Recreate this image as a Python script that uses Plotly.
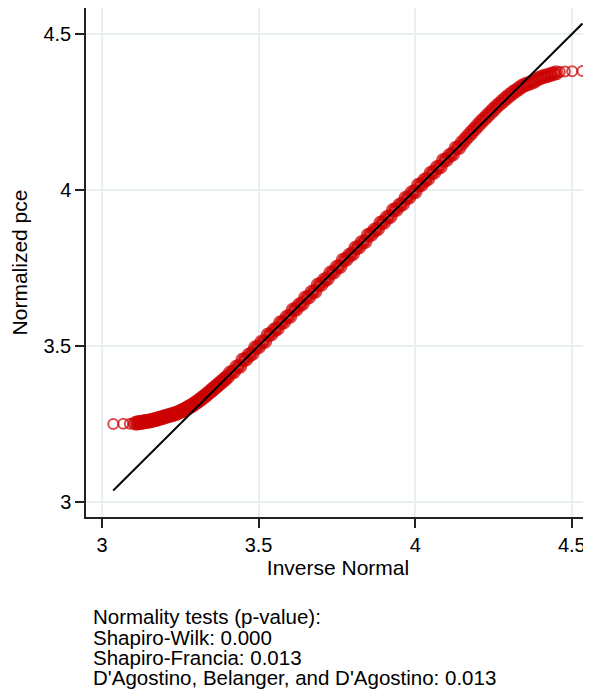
import plotly.graph_objects as go

inv_normal = [
    3.036, 3.068, 3.089, 3.100, 3.108, 3.115, 3.121, 3.127, 3.133, 3.139,
    3.145, 3.151, 3.157, 3.163, 3.169, 3.175, 3.181, 3.187, 3.193, 3.199,
    3.205, 3.212, 3.219, 3.226, 3.233, 3.240, 3.247, 3.254, 3.261, 3.268,
    3.275, 3.282, 3.289, 3.296, 3.303, 3.310, 3.317, 3.324, 3.331, 3.338,
    3.345, 3.352, 3.359, 3.366, 3.373, 3.380, 3.387, 3.394, 3.401,
    3.41, 3.42, 3.43, 3.44, 3.45, 3.46, 3.47, 3.48, 3.49, 3.50,
    3.51, 3.52, 3.53, 3.54, 3.55, 3.56, 3.57, 3.58, 3.59, 3.60,
    3.61, 3.62, 3.63, 3.64, 3.65, 3.66, 3.67, 3.68, 3.69, 3.70,
    3.71, 3.72, 3.73, 3.74, 3.75, 3.76, 3.77, 3.78, 3.79, 3.80,
    3.81, 3.82, 3.83, 3.84, 3.85, 3.86, 3.87, 3.88, 3.89, 3.90,
    3.91, 3.92, 3.93, 3.94, 3.95, 3.96, 3.97, 3.98, 3.99, 4.00,
    4.01, 4.02, 4.03, 4.04, 4.05, 4.06, 4.07, 4.08, 4.09, 4.10,
    4.11, 4.12, 4.13, 4.14, 4.15, 4.16, 4.17, 4.18, 4.19, 4.20,
    4.21, 4.22, 4.23, 4.24, 4.25, 4.26, 4.27, 4.28, 4.29, 4.30,
    4.31, 4.32, 4.33, 4.34, 4.35, 4.36, 4.37, 4.38, 4.39, 4.40,
    4.41, 4.42, 4.43, 4.44, 4.45, 4.462, 4.478, 4.501, 4.534,
]
normalized_pce = [
    3.249, 3.250, 3.250, 3.251, 3.252, 3.253, 3.254, 3.255, 3.256, 3.257,
    3.258, 3.259, 3.260, 3.262, 3.263, 3.265, 3.267, 3.269, 3.270, 3.272,
    3.274, 3.276, 3.278, 3.280, 3.282, 3.285, 3.288, 3.291, 3.294, 3.298,
    3.302, 3.306, 3.310, 3.315, 3.320, 3.325, 3.330, 3.336, 3.341, 3.347,
    3.353, 3.359, 3.365, 3.371, 3.377, 3.383, 3.389, 3.395, 3.401,
    3.414, 3.417, 3.432, 3.435, 3.455, 3.458, 3.471, 3.476, 3.494, 3.497,
    3.512, 3.515, 3.535, 3.538, 3.551, 3.556, 3.574, 3.577, 3.592, 3.595,
    3.615, 3.618, 3.631, 3.636, 3.654, 3.657, 3.672, 3.675, 3.695, 3.698,
    3.711, 3.716, 3.734, 3.737, 3.752, 3.755, 3.775, 3.778, 3.791, 3.796,
    3.814, 3.817, 3.832, 3.835, 3.855, 3.858, 3.871, 3.876, 3.894, 3.897,
    3.912, 3.915, 3.935, 3.938, 3.951, 3.956, 3.974, 3.977, 3.992, 3.995,
    4.015, 4.018, 4.031, 4.036, 4.054, 4.057, 4.072, 4.075, 4.095, 4.098,
    4.111, 4.116, 4.134, 4.137, 4.152, 4.163, 4.174, 4.185, 4.196, 4.207,
    4.218, 4.228, 4.238, 4.248, 4.258, 4.268, 4.277, 4.286, 4.295, 4.303,
    4.311, 4.318, 4.325, 4.332, 4.338, 4.341, 4.345, 4.349, 4.356, 4.360,
    4.364, 4.367, 4.370, 4.373, 4.376, 4.379, 4.380, 4.381, 4.382,
]
ref_line_x = [3.036, 4.534]
ref_line_y = [3.036, 4.534]

tick_vals = [3, 3.5, 4, 4.5]
tick_text = ["3", "3.5", "4", "4.5"]

notes = [
    "Normality tests (p-value):",
    "Shapiro-Wilk: 0.000",
    "Shapiro-Francia: 0.013",
    "D'Agostino, Belanger, and D'Agostino: 0.013",
]

FONT = "Liberation Sans, Arial, Helvetica, sans-serif"
RED = "#cc0000"
# page body has an 8px margin, so the figure is 8px smaller than the window
W, H = 583, 683
L, R, T, B = 78, 1, 0, 173.5
plot_w = W - L - R
plot_h = H - T - B

# Ring thickness: isolated tail points keep thin rings, densely packed
# points (many overlapping observations) render as a solid band.
n = len(inv_normal)
ring_w, ring_s = [], []
for i in range(n):
    gaps = []
    if i > 0:
        gaps.append(inv_normal[i] - inv_normal[i - 1])
    if i < n - 1:
        gaps.append(inv_normal[i + 1] - inv_normal[i])
    dense = not (min(gaps) > 0.011 or i < 4 or i > n - 5)
    ring_w.append(5 if dense else 2)
    ring_s.append(10 if dense else 10)

fig = go.Figure()
fig.add_trace(go.Scatter(
    x=inv_normal, y=normalized_pce, mode="markers",
    marker=dict(symbol="circle-open", size=ring_s, color=RED,
                line=dict(color=RED, width=ring_w)),
    showlegend=False, hoverinfo="skip",
))
fig.add_trace(go.Scatter(
    x=ref_line_x, y=ref_line_y, mode="lines",
    line=dict(color="black", width=2), showlegend=False, hoverinfo="skip",
))

axis_common = dict(
    tickvals=tick_vals, ticktext=tick_text,
    showline=True, linecolor="#222222", linewidth=1.5,
    ticks="outside", ticklen=9, tickwidth=1.5, tickcolor="#222222",
    showgrid=True, gridcolor="#e8f0f1", gridwidth=1.5,
    zeroline=False, mirror=False,
    tickfont=dict(family=FONT, size=20, color="black"),
)

fig.update_layout(
    width=W, height=H,
    margin=dict(l=L, r=R, t=T, b=B, autoexpand=False),
    paper_bgcolor="white", plot_bgcolor="white",
    font=dict(family=FONT, color="black"),
    xaxis=dict(range=[2.949, 4.558], **axis_common,
               title=dict(text="Inverse Normal", standoff=3,
                          font=dict(family=FONT, size=21, color="black"))),
    yaxis=dict(range=[2.951, 4.584], **axis_common,
               title=dict(text="Normalized pce", standoff=12,
                          font=dict(family=FONT, size=21, color="black"))),
)

centers = [609, 630, 650, 670]
for txt, cy in zip(notes, centers):
    fig.add_annotation(
        text=txt, xref="paper", yref="paper",
        x=(83 - L) / plot_w, y=((H - B) - cy) / plot_h,
        xanchor="left", yanchor="middle", showarrow=False,
        font=dict(family=FONT, size=20.5, color="black"), align="left",
    )

fig.write_html("out.html")
